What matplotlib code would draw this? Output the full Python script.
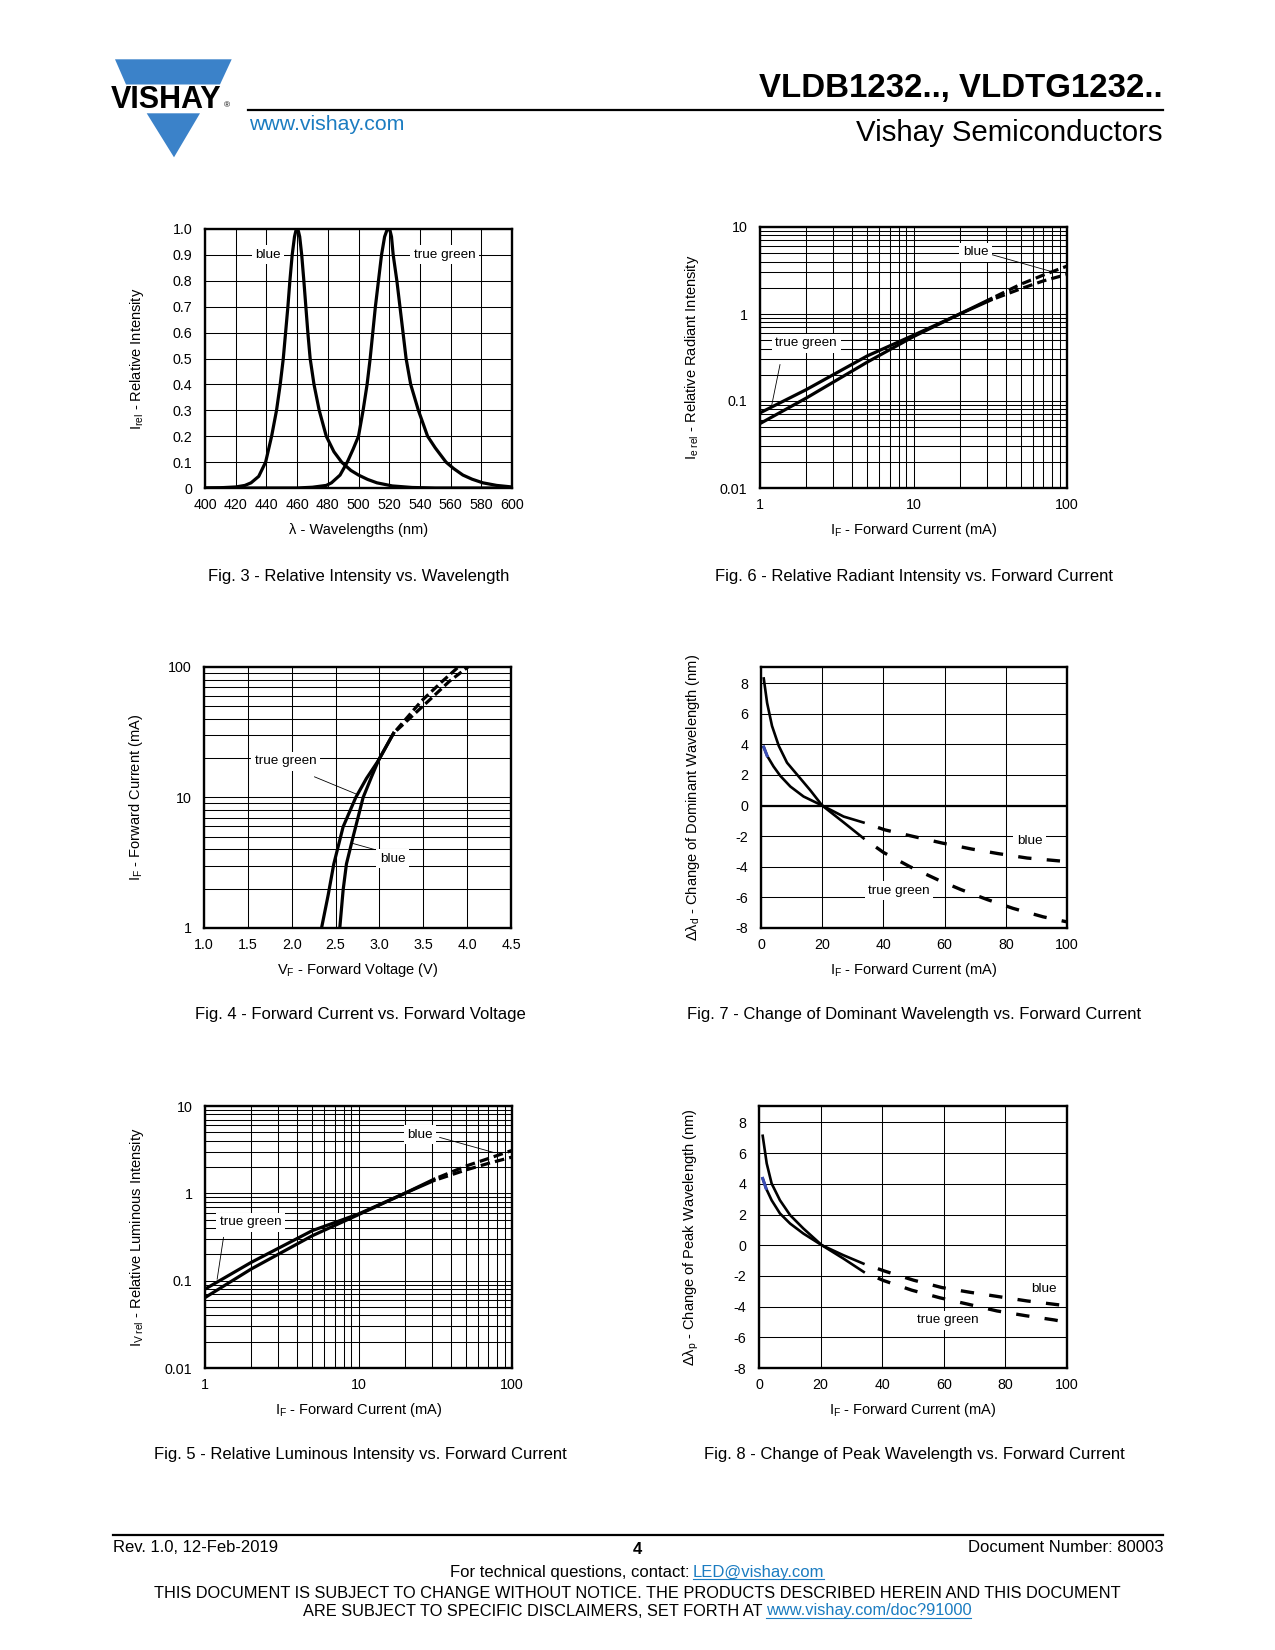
import matplotlib
matplotlib.use("Agg")
import matplotlib.pyplot as plt
from matplotlib.patches import Polygon
from matplotlib.ticker import FixedLocator, LogLocator, NullFormatter


plt.rcParams["font.family"] = ["Liberation Sans", "DejaVu Sans"]
plt.rcParams["mathtext.fontset"] = "custom"
plt.rcParams["mathtext.rm"] = "Liberation Sans"
plt.rcParams["mathtext.it"] = "Liberation Sans:italic"
plt.rcParams["axes.unicode_minus"] = False

W, H = 1275, 1650
VISHAY_BLUE = "#3b82c9"
LINK_BLUE = "#1b7cc1"
HILITE_BLUE = "#3a4db5"

# ---- Fig. 3: relative intensity vs wavelength ----
blue_wl = [400, 410, 420, 426, 430, 435, 439.5, 443.4, 446.6, 449, 451, 452.5, 454,
           455.3, 456.8, 458.3, 459.2, 460, 460.8, 461.7, 463, 464.4, 465.7, 467,
           468.5, 471, 474.4, 479, 484, 489, 495, 500, 506, 512, 522, 535, 550, 600]
blue_irel = [0.0, 0.001, 0.004, 0.01, 0.02, 0.045, 0.1, 0.2, 0.3, 0.4, 0.5, 0.6, 0.7,
             0.8, 0.9, 0.97, 0.993, 1.0, 0.993, 0.97, 0.9, 0.8, 0.7, 0.6,
             0.5, 0.4, 0.3, 0.2, 0.14, 0.1, 0.068, 0.05, 0.033, 0.02, 0.008, 0.002, 0.0, 0.0]
green_wl = [400, 460, 470, 479, 482.4, 488, 492.7, 496.5, 500, 503, 505.6, 507.6, 509.3,
            511, 513, 515, 517, 518.5, 519.5, 520.5, 521.5, 522.6, 525, 527, 529, 531,
            534, 539, 545, 550, 557, 562, 568, 574, 581, 590, 600]
green_irel = [0.0, 0.0, 0.003, 0.01, 0.02, 0.05, 0.1, 0.15, 0.2, 0.3, 0.4, 0.5, 0.6,
              0.7, 0.8, 0.9, 0.97, 0.995, 1.0, 0.995, 0.97, 0.9, 0.8, 0.7, 0.6, 0.5,
              0.4, 0.3, 0.2, 0.155, 0.1, 0.075, 0.05, 0.034, 0.02, 0.01, 0.004]

# ---- Fig. 6: relative radiant intensity vs forward current ----
ie_if = [1, 2, 5, 10, 20, 32]
ie_if_dash = [32, 50, 70, 100]
ie_green = [0.073, 0.135, 0.33, 0.57, 1.0, 1.45]
ie_green_dash = [1.45, 1.95, 2.4, 2.85]
ie_blue = [0.055, 0.108, 0.28, 0.55, 1.0, 1.5]
ie_blue_dash = [1.5, 2.2, 2.8, 3.55]

# ---- Fig. 4: forward current vs forward voltage ----
vf_green = [2.34, 2.415, 2.48, 2.586, 2.73, 2.852, 2.99, 3.16]
if_green = [1, 1.78, 3.1, 5.96, 10, 14.0, 19.3, 31]
vf_blue = [2.548, 2.586, 2.624, 2.70, 2.814, 2.91, 2.99, 3.16]
if_blue = [1, 1.95, 3.1, 5.0, 10, 14.4, 19.3, 31]
vf_green_dash = [3.16, 3.48, 3.72, 3.90]
vf_blue_dash = [3.16, 3.56, 3.80, 4.01]
if_dash = [31, 55, 78, 100]

# ---- Fig. 5: relative luminous intensity vs forward current ----
iv_if = [1, 2, 5, 10, 20, 31]
iv_if_dash = [31, 50, 70, 100]
iv_green = [0.08, 0.162, 0.374, 0.58, 1.0, 1.4]
iv_green_dash = [1.4, 1.85, 2.2, 2.6]
iv_blue = [0.064, 0.136, 0.327, 0.57, 1.0, 1.45]
iv_blue_dash = [1.45, 2.05, 2.5, 3.1]

# ---- Fig. 7: change of dominant wavelength ----
dd_green_if = [0.9, 2.0, 3.6, 5.8, 8.5, 12.3, 16.1, 20.0, 27.0, 33.5]
dd_green = [8.3, 6.7, 5.2, 3.9, 2.8, 1.9, 1.0, 0.0, -1.1, -2.14]
dd_green_if_dash = [33.5, 40, 48.7, 58, 65.2, 73.9, 82.4, 92.2, 100]
dd_green_dash = [-2.14, -3.06, -4.0, -4.87, -5.48, -6.14, -6.72, -7.27, -7.6]
dd_blue_if = [0.9, 2.0, 4.1, 6.3, 9.6, 13.9, 20.0, 27.0, 33.5]
dd_blue = [3.82, 3.25, 2.55, 1.94, 1.24, 0.59, 0.0, -0.72, -1.11]
dd_blue_if_dash = [33.5, 40.5, 50, 59.2, 68.8, 77.5, 87, 97.6, 100]
dd_blue_dash = [-1.11, -1.59, -2.03, -2.45, -2.84, -3.14, -3.43, -3.62, -3.67]

# ---- Fig. 8: change of peak wavelength ----
dp_green_if = [1.2, 2.5, 4.1, 6.8, 10.1, 14.4, 20.4, 27.4, 34]
dp_green = [7.13, 5.33, 4.02, 2.93, 1.96, 1.09, 0.0, -0.87, -1.74]
dp_green_if_dash = [34, 40.4, 49.6, 58.8, 68, 77.2, 86.5, 95.9, 98]
dp_green_dash = [-1.74, -2.3, -2.93, -3.43, -3.85, -4.28, -4.59, -4.87, -4.95]
dp_blue_if = [1.2, 2.3, 4.1, 6.8, 10.1, 14.4, 20.4, 27.4, 33.9]
dp_blue = [4.35, 3.7, 2.93, 2.07, 1.41, 0.76, 0.0, -0.65, -1.2]
dp_blue_if_dash = [33.9, 41, 50.2, 59.4, 68.6, 77.8, 87, 96.7, 99]
dp_blue_dash = [-1.2, -1.7, -2.28, -2.76, -3.07, -3.35, -3.63, -3.87, -3.92]

lin_ticks_if = [0, 20, 40, 60, 80, 100]
shift_ticks = [-8, -6, -4, -2, 0, 2, 4, 6, 8]

TICK_SIZE = 10.3
LABEL_SIZE = 10.5
TAG_SIZE = 9.7

fig = plt.figure(figsize=(W / 100, H / 100), dpi=100)
page = fig.add_axes([0, 0, 1, 1])
page.set_xlim(0, W)
page.set_ylim(H, 0)
page.axis("off")


def chart_axes(left, top, right, bottom):
    ax = fig.add_axes([left / W, 1 - bottom / H, (right - left) / W, (bottom - top) / H])
    w, h = right - left, bottom - top
    for s in ax.spines.values():
        s.set_linewidth(1.7)
    ax.tick_params(which="both", length=0, labelsize=TICK_SIZE)
    ax.tick_params(axis="x", pad=7)
    ax.tick_params(axis="y", pad=9)
    ax.set_axisbelow(True)
    ax._px = (w, h)
    return ax


def labels(ax, xlabel, ylabel):
    w, h = ax._px
    ax.set_xlabel(xlabel, fontsize=LABEL_SIZE, va="center", ha="center")
    ax.set_ylabel(ylabel, fontsize=LABEL_SIZE, va="center", ha="center")
    ax.xaxis.set_label_coords(0.5, -42 / h)
    ax.yaxis.set_label_coords(-68 / w, 0.5)


def tag(ax, x, y, s):
    ax.text(x, y, s, fontsize=TAG_SIZE, ha="center", va="center", zorder=4,
            bbox=dict(facecolor="white", edgecolor="none", pad=2.5))


def pointer(ax, xs, ys):
    ax.plot(xs, ys, color="black", lw=0.6, zorder=3)


def log_grid(ax, axis):
    target = ax.xaxis if axis == "x" else ax.yaxis
    target.set_minor_locator(LogLocator(base=10, subs=range(2, 10)))
    target.set_minor_formatter(NullFormatter())


def dashed(on, off):
    return (on, (on, off))


GRID = dict(color="black", lw=0.75)

# Fig. 3
ax = chart_axes(205, 229, 512, 488)
ax.plot(blue_wl, blue_irel, color="black", lw=2.3, solid_joinstyle="round")
ax.plot(green_wl, green_irel, color="black", lw=2.3, solid_joinstyle="round")
ax.set_xlim(400, 600)
ax.set_ylim(0, 1.0)
ax.set_xticks(range(400, 601, 20))
ax.set_yticks([i / 10 for i in range(11)])
ax.set_yticklabels(["0"] + ["%.1f" % (i / 10) for i in range(1, 11)])
ax.grid(True, **GRID)
tag(ax, 441, 0.9, "blue")
tag(ax, 556, 0.9, "true green")
labels(ax, "λ - Wavelengths (nm)", r"I$_{\rm rel}$ - Relative Intensity")

# Fig. 6
ax = chart_axes(760, 227, 1067, 488)
ax.set_xscale("log")
ax.set_yscale("log")
ax.plot(ie_if, ie_green, color="black", lw=2.3)
ax.plot(ie_if, ie_blue, color="black", lw=2.3)
ax.plot(ie_if_dash, ie_green_dash, color="black", lw=2.3, ls=dashed(3, 1.6))
ax.plot(ie_if_dash, ie_blue_dash, color="black", lw=2.3, ls=dashed(3, 1.6))
ax.set_xlim(1, 100)
ax.set_ylim(0.01, 10)
log_grid(ax, "x")
log_grid(ax, "y")
ax.xaxis.set_major_locator(FixedLocator([1, 10, 100]))
ax.set_xticklabels(["1", "10", "100"])
ax.yaxis.set_major_locator(FixedLocator([0.01, 0.1, 1, 10]))
ax.set_yticklabels(["0.01", "0.1", "1", "10"])
ax.grid(True, which="both", **GRID)
pointer(ax, [32.4, 77.9], [4.81, 3.1])
pointer(ax, [1.35, 1.19], [0.262, 0.088])
tag(ax, 25.4, 5.1, "blue")
tag(ax, 2.0, 0.464, "true green")
labels(ax, r"I$_{\rm F}$ - Forward Current (mA)",
       r"I$_{\rm e\ rel}$ - Relative Radiant Intensity")

# Fig. 4
ax = chart_axes(204, 667, 511, 928)
ax.set_yscale("log")
ax.plot(vf_green, if_green, color="black", lw=2.3)
ax.plot(vf_blue, if_blue, color="black", lw=2.3)
ax.plot(vf_green_dash, if_dash, color="black", lw=2.3, ls=dashed(2.8, 1.3))
ax.plot(vf_blue_dash, if_dash, color="black", lw=2.3, ls=dashed(2.8, 1.3))
ax.set_xlim(1.0, 4.5)
ax.set_ylim(1, 100)
log_grid(ax, "y")
ax.set_xticks([1.0, 1.5, 2.0, 2.5, 3.0, 3.5, 4.0, 4.5])
ax.set_xticklabels(["1.0", "1.5", "2.0", "2.5", "3.0", "3.5", "4.0", "4.5"])
ax.yaxis.set_major_locator(FixedLocator([1, 10, 100]))
ax.set_yticklabels(["1", "10", "100"])
ax.grid(True, which="both", **GRID)
pointer(ax, [2.26, 2.74], [14.4, 10.6])
pointer(ax, [2.947, 2.70], [3.99, 4.44])
tag(ax, 1.932, 19.0, "true green")
tag(ax, 3.149, 3.40, "blue")
labels(ax, r"V$_{\rm F}$ - Forward Voltage (V)", r"I$_{\rm F}$ - Forward Current (mA)")

# Fig. 7
ax = chart_axes(761, 667, 1067, 928)
ax.axhline(0, color="black", lw=1.6, zorder=1)
ax.plot(dd_green_if, dd_green, color="black", lw=1.9)
ax.plot(dd_blue_if, dd_blue, color="black", lw=1.9)
ax.plot(dd_blue_if[:2], dd_blue[:2], color=HILITE_BLUE, lw=2.2)
ax.plot(dd_green_if_dash, dd_green_dash, color="black", lw=2.4, ls=dashed(4.0, 4.6))
ax.plot(dd_blue_if_dash, dd_blue_dash, color="black", lw=2.4, ls=dashed(4.0, 4.6))
ax.set_xlim(0, 100)
ax.set_ylim(-8, 9.05)
ax.set_xticks(lin_ticks_if)
ax.set_yticks(shift_ticks)
ax.grid(True, **GRID)
tag(ax, 87.8, -2.31, "blue")
tag(ax, 45.1, -5.57, "true green")
labels(ax, r"I$_{\rm F}$ - Forward Current (mA)",
       r"Δλ$_{\rm d}$ - Change of Dominant Wavelength (nm)")

# Fig. 5
ax = chart_axes(205, 1106, 512, 1368)
ax.set_xscale("log")
ax.set_yscale("log")
ax.plot(iv_if, iv_green, color="black", lw=2.3)
ax.plot(iv_if, iv_blue, color="black", lw=2.3)
ax.plot(iv_if_dash, iv_green_dash, color="black", lw=2.3, ls=dashed(3, 1.6))
ax.plot(iv_if_dash, iv_blue_dash, color="black", lw=2.3, ls=dashed(3, 1.6))
ax.set_xlim(1, 100)
ax.set_ylim(0.01, 10)
log_grid(ax, "x")
log_grid(ax, "y")
ax.xaxis.set_major_locator(FixedLocator([1, 10, 100]))
ax.set_xticklabels(["1", "10", "100"])
ax.yaxis.set_major_locator(FixedLocator([0.01, 0.1, 1, 10]))
ax.set_yticklabels(["0.01", "0.1", "1", "10"])
ax.grid(True, which="both", **GRID)
pointer(ax, [33.8, 75.2], [4.37, 2.95])
pointer(ax, [1.32, 1.20], [0.313, 0.104])
tag(ax, 25.1, 4.66, "blue")
tag(ax, 1.98, 0.466, "true green")
labels(ax, r"I$_{\rm F}$ - Forward Current (mA)",
       r"I$_{\rm V\ rel}$ - Relative Luminous Intensity")

# Fig. 8
ax = chart_axes(759, 1106, 1067, 1368)
ax.plot(dp_green_if, dp_green, color="black", lw=1.9)
ax.plot(dp_blue_if, dp_blue, color="black", lw=1.9)
ax.plot(dp_blue_if[:2], dp_blue[:2], color=HILITE_BLUE, lw=2.2)
ax.plot(dp_green_if_dash, dp_green_dash, color="black", lw=2.4, ls=dashed(4.0, 4.6))
ax.plot(dp_blue_if_dash, dp_blue_dash, color="black", lw=2.4, ls=dashed(4.0, 4.6))
ax.set_xlim(0, 100)
ax.set_ylim(-8, 9.07)
ax.set_xticks(lin_ticks_if)
ax.set_yticks(shift_ticks)
ax.grid(True, **GRID)
tag(ax, 92.4, -2.83, "blue")
tag(ax, 61.3, -4.89, "true green")
labels(ax, r"I$_{\rm F}$ - Forward Current (mA)",
       r"Δλ$_{\rm p}$ - Change of Peak Wavelength (nm)")

# captions
captions = [
    (359, 577, "Fig. 3 - Relative Intensity vs. Wavelength"),
    (914, 577, "Fig. 6 - Relative Radiant Intensity vs. Forward Current"),
    (360, 1015, "Fig. 4 - Forward Current vs. Forward Voltage"),
    (914, 1015, "Fig. 7 - Change of Dominant Wavelength vs. Forward Current"),
    (360, 1455, "Fig. 5 - Relative Luminous Intensity vs. Forward Current"),
    (914, 1455, "Fig. 8 - Change of Peak Wavelength vs. Forward Current"),
]
for x, y, s in captions:
    page.text(x, y, s, fontsize=12, ha="center", va="center")

# header: logo, title, line
page.add_patch(Polygon([(115, 59.3), (231.7, 59.3), (220, 84.5), (126, 84.5)],
                       closed=True, facecolor=VISHAY_BLUE, edgecolor="none"))
page.add_patch(Polygon([(146.7, 113.3), (200, 113.3), (174, 157.3)],
                       closed=True, facecolor=VISHAY_BLUE, edgecolor="none"))
page.text(111, 107.5, "VISHAY", fontsize=22, fontweight="bold", ha="left", va="baseline")
page.text(224, 107.5, "®", fontsize=6, ha="left", va="baseline")
page.plot([248, 1163], [110, 110], color="black", lw=1.6)
page.text(249, 124, "www.vishay.com", fontsize=15.3, color=LINK_BLUE, ha="left", va="center")
page.text(1163, 88, "VLDB1232.., VLDTG1232..", fontsize=23.8, fontweight="bold",
          ha="right", va="center")
page.text(1163, 133, "Vishay Semiconductors", fontsize=21.2, ha="right", va="center")

# footer
FOOT = 12
NOTICE = 11.8
page.plot([113, 1163], [1535, 1535], color="black", lw=1.6)
page.text(113, 1548, "Rev. 1.0, 12-Feb-2019", fontsize=FOOT, ha="left", va="center")
page.text(637, 1550, "4", fontsize=FOOT, fontweight="bold", ha="center", va="center")
page.text(1163, 1548, "Document Number: 80003", fontsize=FOOT, ha="right", va="center")

renderer = fig.canvas.get_renderer()


def width_px(t):
    return t.get_window_extent(renderer=renderer).width


def text_with_link(y, plain, link, center, size=FOOT):
    t1 = page.text(0, y, plain, fontsize=size, ha="left", va="center")
    t2 = page.text(0, y, link, fontsize=size, color=LINK_BLUE, ha="left", va="center")
    w1, w2 = width_px(t1), width_px(t2)
    gap = size * 0.3
    x0 = center - (w1 + gap + w2) / 2
    t1.set_x(x0)
    t2.set_x(x0 + w1 + gap)
    page.plot([x0 + w1 + gap, x0 + w1 + gap + w2], [y + size * 0.62, y + size * 0.62],
              color=LINK_BLUE, lw=0.8)


text_with_link(1572, "For technical questions, contact:", "LED@vishay.com", 637)
page.text(637, 1594, "THIS DOCUMENT IS SUBJECT TO CHANGE WITHOUT NOTICE. THE PRODUCTS "
          "DESCRIBED HEREIN AND THIS DOCUMENT", fontsize=NOTICE, ha="center", va="center")
text_with_link(1611, "ARE SUBJECT TO SPECIFIC DISCLAIMERS, SET FORTH AT",
               "www.vishay.com/doc?91000", 637, size=NOTICE)

fig.savefig("out.png", dpi=100)
plt.close(fig)
